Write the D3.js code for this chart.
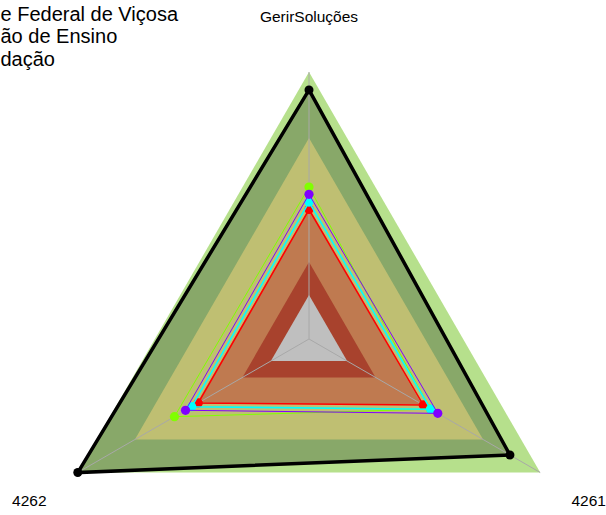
<!DOCTYPE html>
<html>
<head>
<meta charset="utf-8">
<script src="https://cdn.jsdelivr.net/npm/d3@7"></script>
<style>
  html, body { margin: 0; padding: 0; background: #fff; }
  svg { display: block; font-family: "Liberation Sans", Arial, sans-serif; }
</style>
</head>
<body>
<svg id="chart" width="606" height="515"></svg>
<script>
// Axes of the radar, clockwise from the top
const axisLabels = ["GerirSoluções", "4261", "4262"];

// Title lines
const titleLines = ["e Federal de Viçosa", "ão de Ensino", "dação"];

// Background performance bands (outer value of each band, same on every axis)
const bandLevels = [100, 75.3, 48.7, 28.8, 16.5];
const bandColors = ["#b6e08c", "#ffff98", "#ffa36b", "#e0593c", "#ffffff"];

// Series values, one per axis (GerirSoluções, 4261, 4262)
const seriesNames = ["Referência", "Série 1", "Série 2", "Série 3", "Série 4"];
const referenceValues = [93.3, 86.9, 100];
const redValues = [48.5, 49.4, 47.9];
const limeValues = [56.9, 52.5, 58.2];
const cyanValues = [51.3, 52.6, 50.7];
const purpleValues = [54.2, 55.7, 53.4];
const seriesColors = ["#000000", "#ff0000", "#80ff00", "#00ffff", "#8000ff"];

const svg = d3.select("#chart");
const cx = 309, cy = 339, R = 267;

const r = d3.scaleLinear().domain([0, 100]).range([0, R]);
const angle = d3.scalePoint().domain(axisLabels).range([-Math.PI / 2, -Math.PI / 2 + 2 * Math.PI * 2 / 3]);

const pt = (axis, v) => [cx + r(v) * Math.cos(angle(axis)), cy + r(v) * Math.sin(angle(axis))];
const polyPoints = vals => axisLabels.map((a, i) => pt(a, vals[i]));
const line = d3.line().curve(d3.curveLinearClosed);

// Bands
const gBands = svg.append("g");
bandLevels.forEach((lv, i) => {
  gBands.append("path")
    .attr("d", line(axisLabels.map(a => pt(a, lv))))
    .attr("fill", bandColors[i]);
});

// Reference series: translucent dark fill over the bands
svg.append("path")
  .attr("d", line(polyPoints(referenceValues)))
  .attr("fill", "rgba(0,0,0,0.25)");

// Axis spokes
svg.append("g").selectAll("line").data(axisLabels).join("line")
  .attr("x1", cx).attr("y1", cy)
  .attr("x2", d => pt(d, 100)[0]).attr("y2", d => pt(d, 100)[1])
  .attr("stroke", "#a8a8a8").attr("stroke-width", 1);

// Series outlines and markers
const allSeries = [referenceValues, redValues, limeValues, cyanValues, purpleValues];
const widths = [3.5, 1.6, 1, 1.6, 1];
allSeries.forEach((vals, i) => {
  const g = svg.append("g").attr("class", "series").attr("data-name", seriesNames[i]);
  g.append("path")
    .attr("d", line(polyPoints(vals)))
    .attr("fill", "none")
    .attr("stroke", seriesColors[i])
    .attr("stroke-width", widths[i])
    .attr("stroke-linejoin", "miter");
  g.selectAll("circle").data(polyPoints(vals)).join("circle")
    .attr("cx", d => d[0]).attr("cy", d => d[1])
    .attr("r", i === 0 ? 4.5 : 4.6)
    .attr("fill", seriesColors[i]);
});

// Axis labels
svg.append("g").selectAll("text").data(axisLabels).join("text")
  .attr("x", d => cx + 323 * Math.cos(angle(d)))
  .attr("y", d => cy + 323 * Math.sin(angle(d)))
  .attr("text-anchor", "middle")
  .attr("dominant-baseline", "central")
  .attr("font-size", 15.5)
  .attr("fill", "#000")
  .text(d => d);

// Title block
svg.append("g").selectAll("text").data(titleLines).join("text")
  .attr("x", 0.5)
  .attr("y", (d, i) => 20.5 + i * 22.5)
  .attr("text-anchor", "start")
  .attr("font-size", 20)
  .attr("fill", "#000")
  .text(d => d);
</script>
</body>
</html>
